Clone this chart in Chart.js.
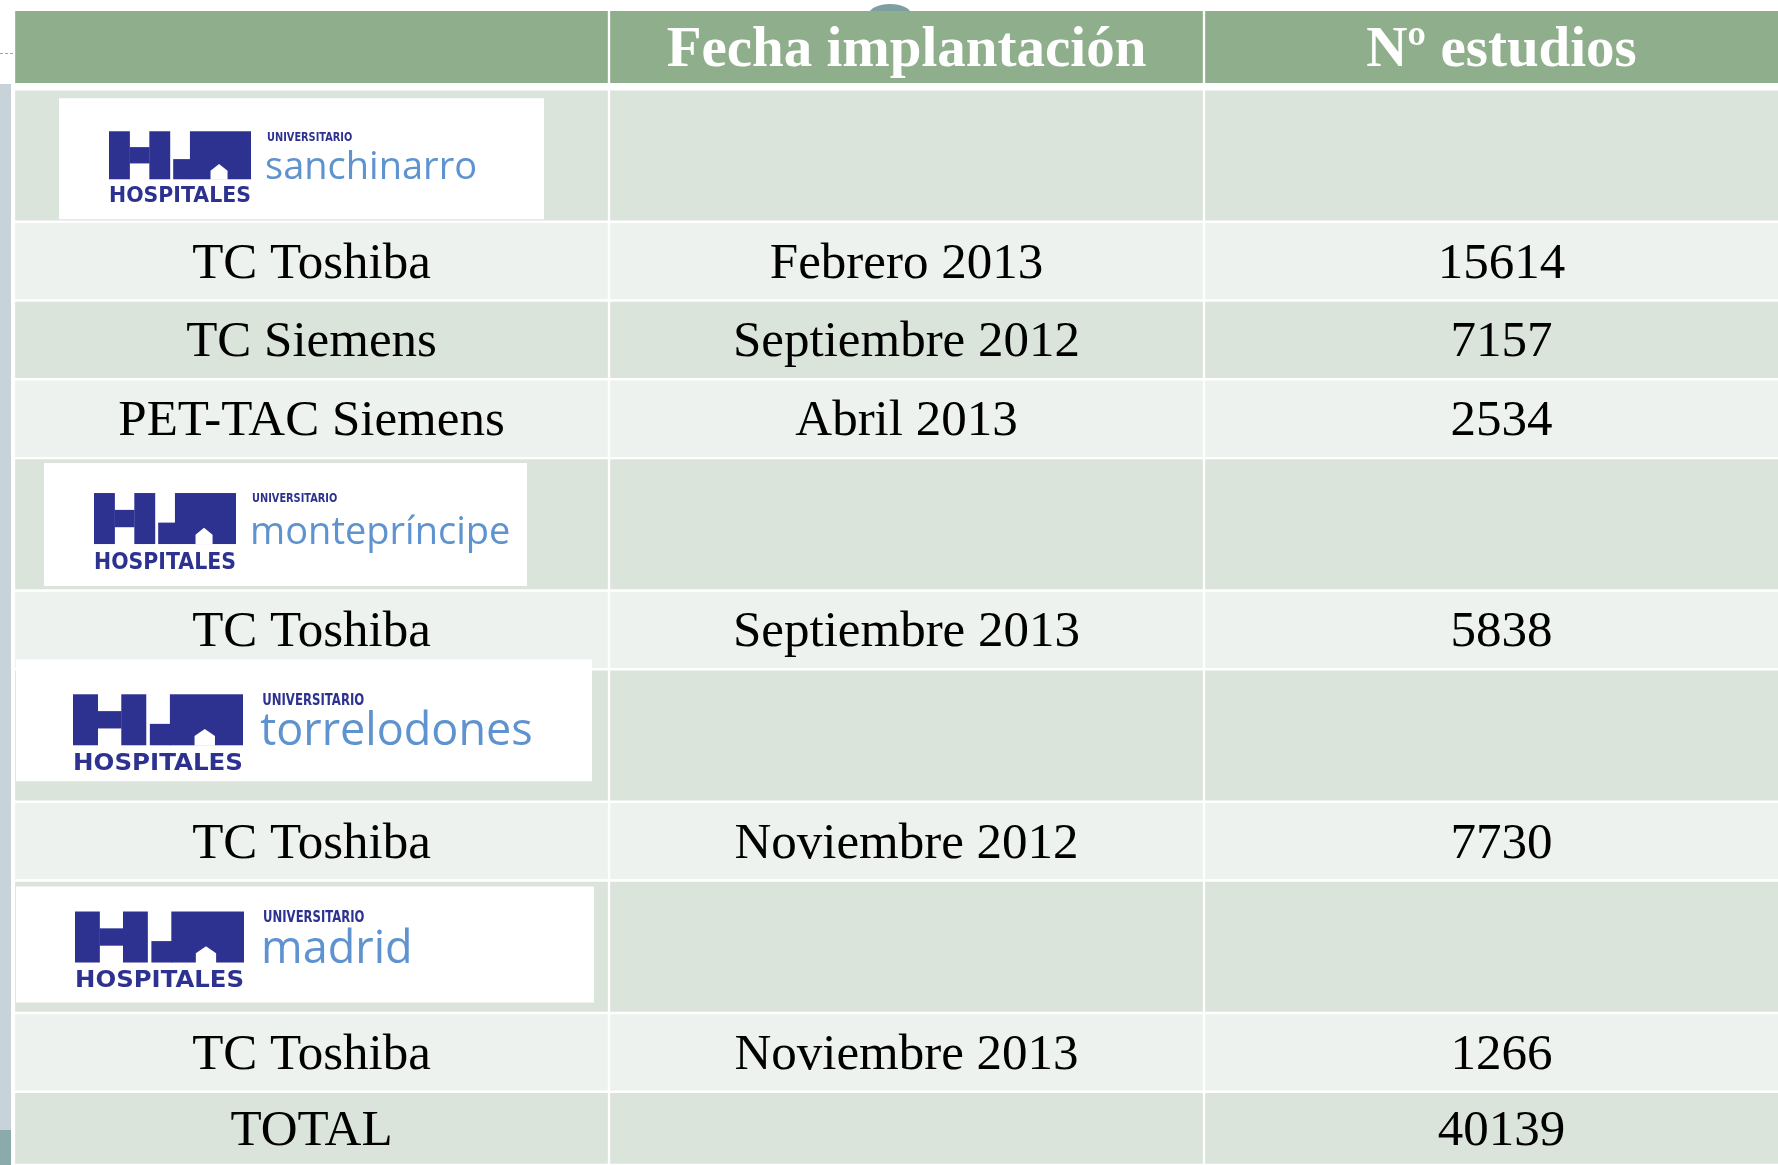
<!DOCTYPE html>
<html>
<head>
<meta charset="utf-8">
<script src="https://cdn.jsdelivr.net/npm/chart.js@4.4.1/dist/chart.umd.min.js"></script>
<style>
  html, body { margin: 0; padding: 0; background: #fff; overflow: hidden; width: 1778px; height: 1165px; }
  #wrap { position: absolute; left: 0; top: 0; width: 1800px; height: 1165px; }
</style>
</head>
<body>
<div id="wrap"><canvas id="tabla"></canvas></div>
<script>
// ========================
// DATA
// ========================
const columnas = ["", "Fecha implantación", "Nº estudios"];
const hospitales = ["sanchinarro", "montepríncipe", "torrelodones", "madrid"];
const equipos = ["TC Toshiba", "TC Siemens", "PET-TAC Siemens", "TC Toshiba", "TC Toshiba", "TC Toshiba"];
const fechas = ["Febrero 2013", "Septiembre 2012", "Abril 2013", "Septiembre 2013", "Noviembre 2012", "Noviembre 2013"];
const estudios = [15614, 7157, 2534, 5838, 7730, 1266];
const hospitalDeEquipo = [0, 0, 0, 1, 2, 3];
const totalEtiqueta = "TOTAL";
const totalEstudios = 40139;

// ========================
// LAYOUT / STYLE
// ========================
const ALTO = { cabecera: 78, logo: 132, fila: 78.5, total: 73 };
const VERDE = "#8faf8c";
const OSCURO = "#dae4db";
const CLARO = "#edf2ee";
const AZUL = "#2d3190";
const CELESTE = "#5f93cf";

// logo box + mark placement, relative to the cell (px)
const LOGO_POS = [
  { box: [45, 9, 485, 121], mark: [50, 33, 142, 48], size: 38 },
  { box: [30, 5, 483, 123], mark: [50, 30, 142, 51], size: 38 },
  { box: [2, -10, 576, 122], mark: [57, 35, 170, 51], size: 45 },
  { box: [2, 6, 578, 116], mark: [59, 25, 169, 51], size: 45 }
];

// ========================
// ROWS
// ========================
const filas = [{ tipo: "cabecera", textos: columnas }];
hospitales.forEach((h, hi) => {
  filas.push({ tipo: "logo", hospital: hi, textos: ["", "", ""] });
  equipos.forEach((e, i) => {
    if (hospitalDeEquipo[i] === hi) {
      filas.push({ tipo: "fila", textos: [e, fechas[i], String(estudios[i])] });
    }
  });
});
filas.push({ tipo: "total", textos: [totalEtiqueta, "", String(totalEstudios)] });

const altoTotal = filas.reduce((s, f) => s + ALTO[f.tipo], 0);

const datasets = filas.map((f, i) => {
  const h = ALTO[f.tipo];
  const color = f.tipo === "cabecera" ? VERDE : (i % 2 === 1 ? OSCURO : CLARO);
  return {
    label: "fila " + i,
    data: [h, h, h],
    backgroundColor: color,
    borderColor: "#ffffff",
    borderWidth: f.tipo === "cabecera" ? { top: 0, left: 1.5, right: 1.5, bottom: 6.5 } : 1.5,
    borderSkipped: false,
    stack: "tabla",
    barPercentage: 1,
    categoryPercentage: 1
  };
});

// ========================
// LOGO DRAWING
// ========================
function textoAjustado(ctx, txt, x, y, ancho, font) {
  ctx.font = font;
  const w = ctx.measureText(txt).width;
  ctx.save();
  ctx.translate(x, y);
  ctx.scale(ancho / w, 1);
  ctx.fillText(txt, 0, 0);
  ctx.restore();
}

function dibujarLogo(ctx, left, top, pos, nombre) {
  const [bx, by, bw, bh] = pos.box;
  ctx.fillStyle = "#ffffff";
  ctx.fillRect(left + bx, top + by, bw, bh);

  const mx = left + bx + pos.mark[0];
  const my = top + by + pos.mark[1];
  const mw = pos.mark[2], mh = pos.mark[3];
  const px = v => mx + v / 100 * mw;
  const py = v => my + v / 100 * mh;
  const rect = (x0, y0, x1, y1) => ctx.fillRect(px(x0), py(y0), px(x1) - px(x0), py(y1) - py(y0));

  // HM mark
  ctx.fillStyle = AZUL;
  rect(0, 0, 14.7, 100);        // H left bar
  rect(14.5, 33, 28.6, 67);     // crossbar
  rect(28.4, 0, 43.1, 100);     // H right bar
  rect(45.2, 58, 57.5, 100);    // lower step of the M
  rect(57, 0, 100, 100);        // M body
  ctx.fillStyle = "#ffffff";
  ctx.beginPath();
  ctx.moveTo(px(71.5), py(101));
  ctx.lineTo(px(71.5), py(82));
  ctx.lineTo(px(77.5), py(68));
  ctx.lineTo(px(83.5), py(82));
  ctx.lineTo(px(83.5), py(101));
  ctx.closePath();
  ctx.fill();

  // HOSPITALES
  ctx.fillStyle = AZUL;
  ctx.textAlign = "left";
  ctx.textBaseline = "alphabetic";
  const cap = 0.33 * mh;
  textoAjustado(ctx, "HOSPITALES", mx, my + mh + 0.15 * mh + cap, mw, "bold " + (cap / 0.73) + "px 'DejaVu Sans'");

  // UNIVERSITARIO + name
  const nx = mx + mw + 0.113 * mw;
  const capU = 0.065 * mw;
  textoAjustado(ctx, "UNIVERSITARIO", nx, my + capU, 0.6 * mw, "bold " + (capU / 0.73) + "px 'DejaVu Sans'");
  ctx.fillStyle = CELESTE;
  ctx.font = pos.size + "px 'Open Sans'";
  ctx.fillText(nombre, nx - 2, my + mh);
}

// ========================
// PLUGINS
// ========================
const decoracion = {
  id: "decoracion",
  beforeDraw(chart) {
    const ctx = chart.ctx;
    ctx.save();
    ctx.fillStyle = "#c7d3d9";
    ctx.fillRect(0, 84, 11, 1046);
    ctx.fillStyle = "#8aaba9";
    ctx.fillRect(0, 1130, 11, 35);
    ctx.strokeStyle = "#9aa8a8";
    ctx.lineWidth = 1;
    ctx.setLineDash([3, 2]);
    ctx.beginPath();
    ctx.moveTo(0, 53.5);
    ctx.lineTo(13, 53.5);
    ctx.stroke();
    ctx.setLineDash([]);
    ctx.fillStyle = "#7f9e9f";
    ctx.beginPath();
    ctx.ellipse(890, 14, 21, 10, 0, Math.PI, 2 * Math.PI);
    ctx.fill();
    ctx.restore();
  }
};

const contenido = {
  id: "contenido",
  afterDatasetsDraw(chart) {
    const ctx = chart.ctx;
    ctx.save();
    // logos first (they may overlap a neighbouring cell)
    filas.forEach((f, i) => {
      if (f.tipo !== "logo") return;
      const bar = chart.getDatasetMeta(i).data[0];
      const p = bar.getProps(["x", "y", "base", "width"], true);
      dibujarLogo(ctx, p.x - p.width / 2, Math.min(p.y, p.base), LOGO_POS[f.hospital], hospitales[f.hospital]);
    });
    ctx.textAlign = "center";
    ctx.textBaseline = "middle";
    filas.forEach((f, i) => {
      const meta = chart.getDatasetMeta(i);
      meta.data.forEach((bar, j) => {
        const txt = f.textos[j];
        if (!txt) return;
        const p = bar.getProps(["x", "y", "base"], true);
        const cy = (p.y + p.base) / 2;
        if (f.tipo === "cabecera") {
          ctx.fillStyle = "#ffffff";
          ctx.font = "bold 57px 'Liberation Serif'";
          ctx.fillText(txt, p.x, cy + 1);
        } else {
          ctx.fillStyle = "#000000";
          ctx.font = "51px 'Liberation Serif'";
          ctx.fillText(txt, p.x, cy + 3);
        }
      });
    });
    ctx.restore();
  }
};

// ========================
// CHART
// ========================
new Chart(document.getElementById("tabla"), {
  type: "bar",
  data: { labels: ["c1", "c2", "c3"], datasets },
  options: {
    responsive: true,
    maintainAspectRatio: false,
    animation: false,
    events: [],
    layout: { padding: { left: 14, top: 11, right: 1, bottom: 0 } },
    plugins: {
      legend: { display: false },
      tooltip: { enabled: false }
    },
    scales: {
      x: { stacked: true, display: false },
      y: { stacked: true, display: false, reverse: true, min: 0, max: altoTotal }
    }
  },
  plugins: [decoracion, contenido]
});
</script>
</body>
</html>
